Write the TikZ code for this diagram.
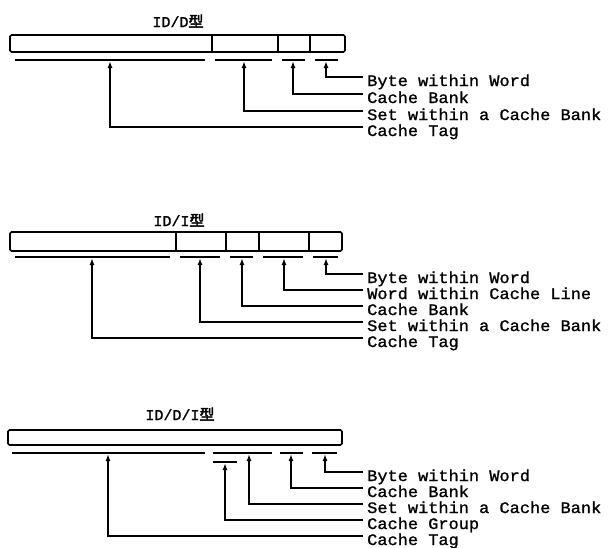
\documentclass[tikz,border=0pt]{standalone}
\usepackage{fontspec}
\newfontfamily\lblfont[FakeStretch=1.06,FakeBold=1.2]{Liberation Mono}
\newfontfamily\ttlfont[FakeBold=1.2]{Liberation Mono}
\newfontfamily\cjkfont[FakeBold=3]{Noto Sans CJK SC}
\usetikzlibrary{arrows.meta}
\begin{document}
\begin{tikzpicture}[x=1pt,y=-1pt,
  field/.style={draw, line width=1.6pt, rounded corners=1.5pt},
  divider/.style={line width=1.6pt},
  bar/.style={line width=2pt},
  conn/.style={line width=1.5pt, -{Latex[length=7pt,width=5pt]}},
  lbl/.style={font=\lblfont\fontsize{16}{16}\selectfont, anchor=base west, inner xsep=4pt, inner ysep=0pt},
  ttl/.style={font=\ttlfont\fontsize{15}{15}\selectfont, anchor=base, inner sep=0pt}]
\useasboundingbox (0,0) rectangle (610,547);

% ---------------- ID/D ----------------
\node[ttl] (h1) at (178,27) {ID/D{\cjkfont 型}};
\draw[field] (10,35) rectangle (345,52);
\draw[divider] (212,35) -- (212,52) (278,35) -- (278,52) (310,35) -- (310,52);
\draw[bar] (15,60) -- (205,60) (215,60) -- (272,60) (282,60) -- (305,60) (315,60) -- (338,60);
\coordinate (a1) at (326,61);
\coordinate (a2) at (293,61);
\coordinate (a3) at (244,61);
\coordinate (a4) at (110,61);
\node[lbl] (l1) at (363,86) {Byte within Word};
\node[lbl] (l2) at (363,103) {Cache Bank};
\node[lbl] (l3) at (363,120) {Set within a Cache Bank};
\node[lbl] (l4) at (363,136) {Cache Tag};
\foreach \i in {1,...,4} \draw[conn] ([yshift=9pt]l\i.base west) -| (a\i);

% ---------------- ID/I ----------------
\node[ttl] (h2) at (179,226) {ID/I{\cjkfont 型}};
\draw[field] (10,232) rectangle (342,251);
\draw[divider] (176,232) -- (176,251) (226,232) -- (226,251) (259,232) -- (259,251) (309,232) -- (309,251);
\draw[bar] (15,257) -- (170,257) (180,257) -- (220,257) (230,257) -- (253,257) (263,257) -- (303,257) (313,257) -- (338,257);
\coordinate (b1) at (326,258);
\coordinate (b2) at (284,258);
\coordinate (b3) at (242,258);
\coordinate (b4) at (200,258);
\coordinate (b5) at (92,258);
\node[lbl] (m1) at (363,283) {Byte within Word};
\node[lbl] (m2) at (363,299) {Word within Cache Line};
\node[lbl] (m3) at (363,315) {Cache Bank};
\node[lbl] (m4) at (363,331) {Set within a Cache Bank};
\node[lbl] (m5) at (363,347) {Cache Tag};
\foreach \i in {1,...,5} \draw[conn] ([yshift=9pt]m\i.base west) -| (b\i);

% ---------------- ID/D/I ----------------
\node[ttl] (h3) at (180,420) {ID/D/I{\cjkfont 型}};
\draw[field] (8,430) rectangle (342,445);
\draw[bar] (12,453) -- (205,453) (213,453) -- (272,453) (280,453) -- (303,453) (312,453) -- (337,453);
\draw[bar] (213,462) -- (237,462);
\coordinate (c1) at (325,454);
\coordinate (c2) at (291,454);
\coordinate (c3) at (249,454);
\coordinate (c4) at (225,463);
\coordinate (c5) at (108,454);
\node[lbl] (n1) at (363,481) {Byte within Word};
\node[lbl] (n2) at (363,497) {Cache Bank};
\node[lbl] (n3) at (363,513) {Set within a Cache Bank};
\node[lbl] (n4) at (363,529) {Cache Group};
\node[lbl] (n5) at (363,545) {Cache Tag};
\foreach \i in {1,...,5} \draw[conn] ([yshift=9pt]n\i.base west) -| (c\i);
\end{tikzpicture}
\end{document}
